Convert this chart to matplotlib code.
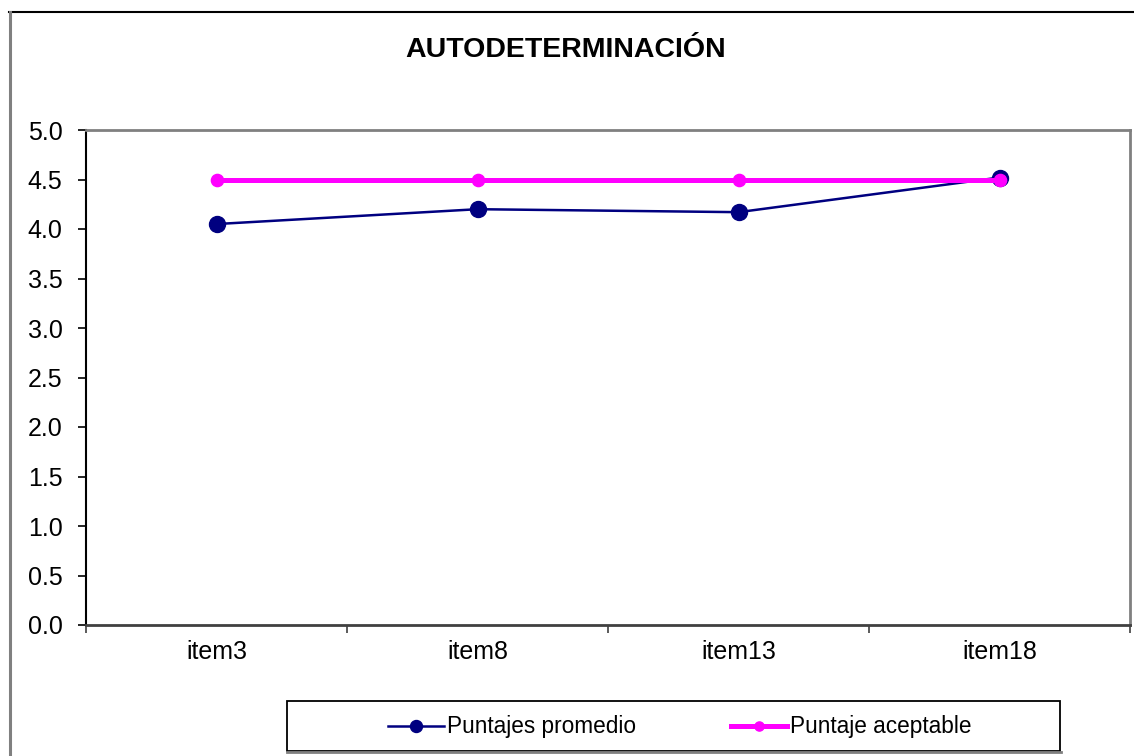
import numpy as np
import matplotlib
matplotlib.use("Agg")
import matplotlib.pyplot as plt
from matplotlib.lines import Line2D
from matplotlib.patches import Rectangle

plt.rcParams['font.family'] = ['Liberation Sans', 'DejaVu Sans']

# chart data
items = ['item3', 'item8', 'item13', 'item18']
puntajes_promedio = [4.05, 4.20, 4.17, 4.52]
puntaje_aceptable = [4.5, 4.5, 4.5, 4.5]
y_ticks = [0.0, 0.5, 1.0, 1.5, 2.0, 2.5, 3.0, 3.5, 4.0, 4.5, 5.0]

W, H = 1134, 756
fig = plt.figure(figsize=(W / 100, H / 100), dpi=100)

def fx(px):
    return px / W

def fy(py):
    return 1 - py / H

# plot area in pixel bounds
left, right, top, bottom = 86, 1130, 130, 625
ax = fig.add_axes([fx(left), fy(bottom), fx(right) - fx(left), fy(top) - fy(bottom)])

x = np.arange(len(items))
ax.plot(x, puntajes_promedio, color='#000080', lw=1.8, marker='o', ms=11.5,
        label='Puntajes promedio', zorder=3)
ax.plot(x, puntaje_aceptable, color='#FF00FF', lw=3.6, marker='o', ms=8.8,
        label='Puntaje aceptable', zorder=4)

ax.set_xlim(-0.5, len(items) - 0.5)
ax.set_ylim(0, 5)
ax.set_yticks(y_ticks)
ax.set_yticklabels([f'{v:.1f}' for v in y_ticks])
ax.set_xticks(x)
ax.set_xticklabels(items)
ax.set_xticks(np.arange(len(items) + 1) - 0.5, minor=True)

ax.tick_params(axis='y', direction='out', length=6, width=1.2, pad=11,
               labelsize=18, color='black')
ax.tick_params(axis='x', which='major', length=0, pad=11, labelsize=18)
ax.tick_params(axis='x', which='minor', direction='out', length=6, width=1.2,
               color='#404040')

ax.spines['left'].set_color('black')
ax.spines['left'].set_linewidth(1.5)
ax.spines['bottom'].set_color('#404040')
ax.spines['bottom'].set_linewidth(2)
for s in ['top', 'right']:
    ax.spines[s].set_color('#808080')
    ax.spines[s].set_linewidth(2)

fig.text(fx(566), fy(50), 'AUTODETERMINACIÓN', ha='center', va='center',
         fontsize=20.5, fontweight='bold')

# legend box
fig.patches.append(Rectangle((fx(287), fy(751)), fx(1060) - fx(287), fy(701) - fy(751),
                             transform=fig.transFigure, fill=False,
                             edgecolor='black', lw=1.3))
fig.lines.append(Line2D([fx(287), fx(1061)], [fy(752), fy(752)],
                        transform=fig.transFigure, color='#808080', lw=2))
handles, labels = ax.get_legend_handles_labels()
leg = fig.legend(handles, labels, loc='center', bbox_to_anchor=(fx(680), fy(727)),
                 ncol=2, frameon=False, fontsize=16.3, handlelength=2.45,
                 handletextpad=0.15, columnspacing=4.2, markerscale=0.75)

# outer chart border
fig.lines.append(Line2D([fx(9), 1], [fy(12), fy(12)], transform=fig.transFigure,
                        color='black', lw=1.5))
fig.lines.append(Line2D([fx(9.5), fx(9.5)], [fy(12), 0], transform=fig.transFigure,
                        color='#808080', lw=2.2))

fig.savefig('out.png', dpi=100)
